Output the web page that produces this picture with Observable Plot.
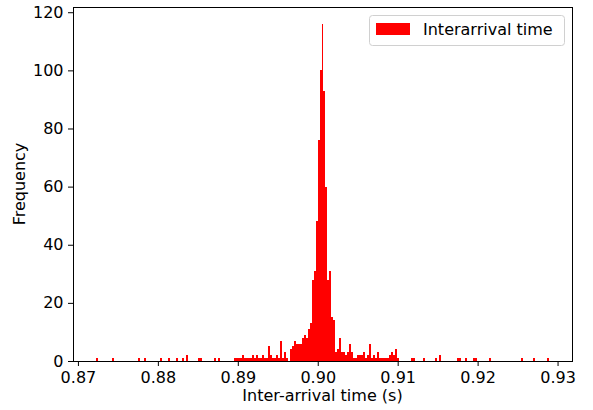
<!DOCTYPE html>
<html><head><meta charset="utf-8">
<script src="https://cdn.jsdelivr.net/npm/d3@7"></script>
<script src="https://cdn.jsdelivr.net/npm/@observablehq/plot@0.6"></script>
<style>
body{margin:0;background:#fff}
#chart svg{font-family:"DejaVu Sans",sans-serif;background:#fff}
#chart svg g[aria-label$="tick label"] text{font-size:16px}
</style>
</head><body><div id="chart"></div>
<script>
// Histogram bins: left edge of bin 0, bin width, number of bins
const firstEdge = 0.87222;
const binWidth = 0.00025;
const nBins = 227;
// Non-empty bins (index) and their counts
const binIndex = [0,8,21,24,32,36,40,43,45,51,52,59,61,69,70,71,72,73,74,75,76,77,78,79,80,81,82,83,84,85,86,87,88,89,90,91,92,93,94,95,97,98,99,100,101,102,103,104,105,106,107,108,109,110,111,112,113,114,115,116,117,118,119,120,121,122,123,124,125,126,127,128,129,130,131,132,133,134,135,136,137,138,139,140,141,142,143,144,145,146,147,148,149,150,151,158,159,164,170,172,181,182,185,189,190,197,213,219,226];
const counts   = [1,1,1,1,1,1,1,1,2,1,1,1,1,1,1,1,1,2,1,1,1,1,2,1,2,1,1,2,1,1,5,2,1,1,2,1,7,1,3,1,4,5,7,6,6,6,8,9,8,11,13,28,31,48,76,100,116,93,60,28,31,15,14,3,4,8,3,3,2,3,6,3,1,1,2,2,2,3,1,2,6,1,2,1,3,1,1,1,1,1,2,3,2,4,1,1,1,1,1,2,1,1,1,1,1,1,1,1,1];
const xTicks = [0.87,0.88,0.89,0.90,0.91,0.92,0.93];
const yTicks = [0,20,40,60,80,100,120];
const seriesName = "Interarrival time";
const xLabel = "Inter-arrival time (s)";
const yLabel = "Frequency";

const bins = binIndex.map((b,k)=>({x1:firstEdge+b*binWidth, x2:firstEdge+(b+1)*binWidth, count:counts[k]}));
const dMin = firstEdge, dMax = firstEdge + nBins*binWidth;
const pad = (dMax-dMin)*0.05;
const yMax = d3.max(counts)*1.05;

const W=593,H=410,ML=73,MR=21,MT=7,MB=49;
const chart = Plot.plot({
  width:W, height:H, marginLeft:ML, marginRight:MR, marginTop:MT, marginBottom:MB,
  style:{fontFamily:"DejaVu Sans", fontSize:"16px", color:"black", background:"white"},
  x:{domain:[dMin-pad, dMax+pad]},
  y:{domain:[0, yMax]},
  marks:[
    Plot.rectY(bins,{x1:"x1",x2:"x2",y:"count",fill:"#ff0000",insetLeft:0,insetRight:0,shapeRendering:"crispEdges"}),
    Plot.axisX(xTicks,{tickSize:5,tickPadding:5,tickFormat:d3.format(".2f"),fontSize:16,label:null,strokeWidth:1}),
    Plot.axisY(yTicks,{tickSize:5,tickPadding:5,tickFormat:d3.format("d"),fontSize:16,label:null,strokeWidth:1}),
    Plot.frame({stroke:"black",strokeWidth:1})
  ]
});
document.getElementById("chart").appendChild(chart);

const svg = d3.select(chart);
svg.selectAll('g[aria-label$="tick label"]').attr("font-size",16).selectAll("text").attr("font-size",16).attr("fill","black");
svg.append("text").attr("x",(ML+W-MR)/2).attr("y",401).attr("text-anchor","middle")
  .attr("font-size",16).attr("fill","black").text(xLabel);
svg.append("text").attr("transform",`translate(25,${(MT+H-MB)/2}) rotate(-90)`).attr("text-anchor","middle")
  .attr("font-size",16).attr("fill","black").text(yLabel);
const lg = svg.append("g");
lg.append("rect").attr("x",369.5).attr("y",15.5).attr("width",195).attr("height",30).attr("rx",3)
  .attr("fill","white").attr("fill-opacity",0.8).attr("stroke","#d0d0d0").attr("stroke-width",1);
lg.append("rect").attr("x",376).attr("y",23).attr("width",34).attr("height",12).attr("fill","#ff0000");
lg.append("text").attr("x",423).attr("y",35).attr("text-anchor","start").attr("font-size",16).attr("fill","black").text(seriesName);
</script>
</body></html>
